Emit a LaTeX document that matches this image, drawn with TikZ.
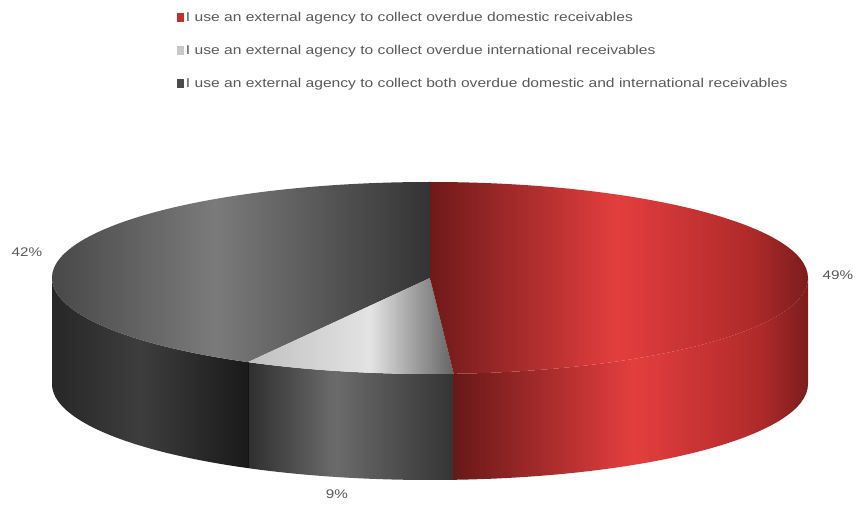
\documentclass[tikz,border=0pt]{standalone}
\usepackage{fontspec}
\newfontfamily\chartfont{Liberation Sans}[FakeStretch=1.22]
\usetikzlibrary{positioning}

\definecolor{txt}{HTML}{595959}
\definecolor{rdark}{HTML}{7A1C1C}
\definecolor{rmid}{HTML}{B02A2A}
\definecolor{rbright}{HTML}{E43E3E}
\definecolor{kred}{HTML}{C0302F}
\definecolor{kgray}{HTML}{C8C8C8}
\definecolor{kdark}{HTML}{4A4A4A}

\tikzset{
  pie arc/.style={x radius=378pt, y radius=96pt},
  pct/.style={font=\chartfont\fontsize{12.5}{15}\selectfont, text=txt, inner sep=0pt},
  legend/.style={font=\chartfont\fontsize{12.8}{15}\selectfont, text=txt, inner sep=0pt, anchor=west},
  key/.style={minimum width=7pt, minimum height=9pt, inner sep=0pt}
}

\begin{document}
\begin{tikzpicture}[x=1pt,y=1pt]
\useasboundingbox (0,0) rectangle (860,504);

% legend
\node[key, fill=kred] (key1) at (180,486) {};
\node[legend, right=2pt of key1] (leg1) {I use an external agency to collect overdue domestic receivables};
\node[key, fill=kgray] (key2) at (180,453) {};
\node[legend, right=2pt of key2] (leg2) {I use an external agency to collect overdue international receivables};
\node[key, fill=kdark] (key3) at (180,420) {};
\node[legend, right=2pt of key3] (leg3) {I use an external agency to collect both overdue domestic and international receivables};

\coordinate (c) at (430,226);

% sides
\begin{scope}
  \clip ([shift={(-180:378pt and 96pt)}]c) arc[pie arc, start angle=-180, end angle=-118.8]
    -- ++(0,-106) arc[pie arc, start angle=-118.8, end angle=-180] -- cycle;
  \shade[left color=black!85, right color=black!76] (50,0) rectangle (140,300);
  \shade[left color=black!76, right color=black!90] (140,0) rectangle (249,300);
\end{scope}
\begin{scope}
  \clip ([shift={(-118.8:378pt and 96pt)}]c) arc[pie arc, start angle=-118.8, end angle=-86.4]
    -- ++(0,-106) arc[pie arc, start angle=-86.4, end angle=-118.8] -- cycle;
  \shade[left color=black!82, right color=black!58] (247,0) rectangle (335,300);
  \shade[left color=black!58, right color=black!80] (335,0) rectangle (456,300);
\end{scope}
\begin{scope}
  \clip ([shift={(-86.4:378pt and 96pt)}]c) arc[pie arc, start angle=-86.4, end angle=0]
    -- ++(0,-106) arc[pie arc, start angle=0, end angle=-86.4] -- cycle;
  \shade[left color=rdark!85!black, right color=rbright] (453,0) rectangle (633,300);
  \shade[left color=rbright, right color=rmid] (633,0) rectangle (760,300);
  \shade[left color=rmid, right color=rdark] (760,0) rectangle (810,300);
\end{scope}
\draw[black!92, line width=0.6pt] ([shift={(-118.8:378pt and 96pt)}]c) -- ++(0,-106);

% top faces
\begin{scope}
  \clip (c) -- ++(-118.8:378pt and 96pt) arc[pie arc, start angle=-118.8, end angle=-270] -- cycle;
  \shade[left color=black!72, right color=black!52] (50,100) rectangle (215,330);
  \shade[left color=black!52, right color=black!80] (215,100) rectangle (431,330);
\end{scope}
\begin{scope}
  \clip (c) -- ++(-118.8:378pt and 96pt) arc[pie arc, start angle=-118.8, end angle=-86.4] -- cycle;
  \shade[left color=black!25, right color=black!11] (247,100) rectangle (370,330);
  \shade[left color=black!11, right color=black!62] (370,100) rectangle (456,330);
\end{scope}
\begin{scope}
  \clip (c) -- ++(90:378pt and 96pt) arc[pie arc, start angle=90, end angle=-86.4] -- cycle;
  \shade[left color=rdark!90!black, right color=rbright] (429,100) rectangle (617,330);
  \shade[left color=rbright, right color=rmid] (617,100) rectangle (750,330);
  \shade[left color=rmid, right color=rdark] (750,100) rectangle (810,330);
\end{scope}

% percentages
\node[pct] (p42) at (27,252) {42\%};
\node[pct] (p49) at (838,229) {49\%};
\node[pct] (p9) at (337,10) {9\%};

\end{tikzpicture}
\end{document}
